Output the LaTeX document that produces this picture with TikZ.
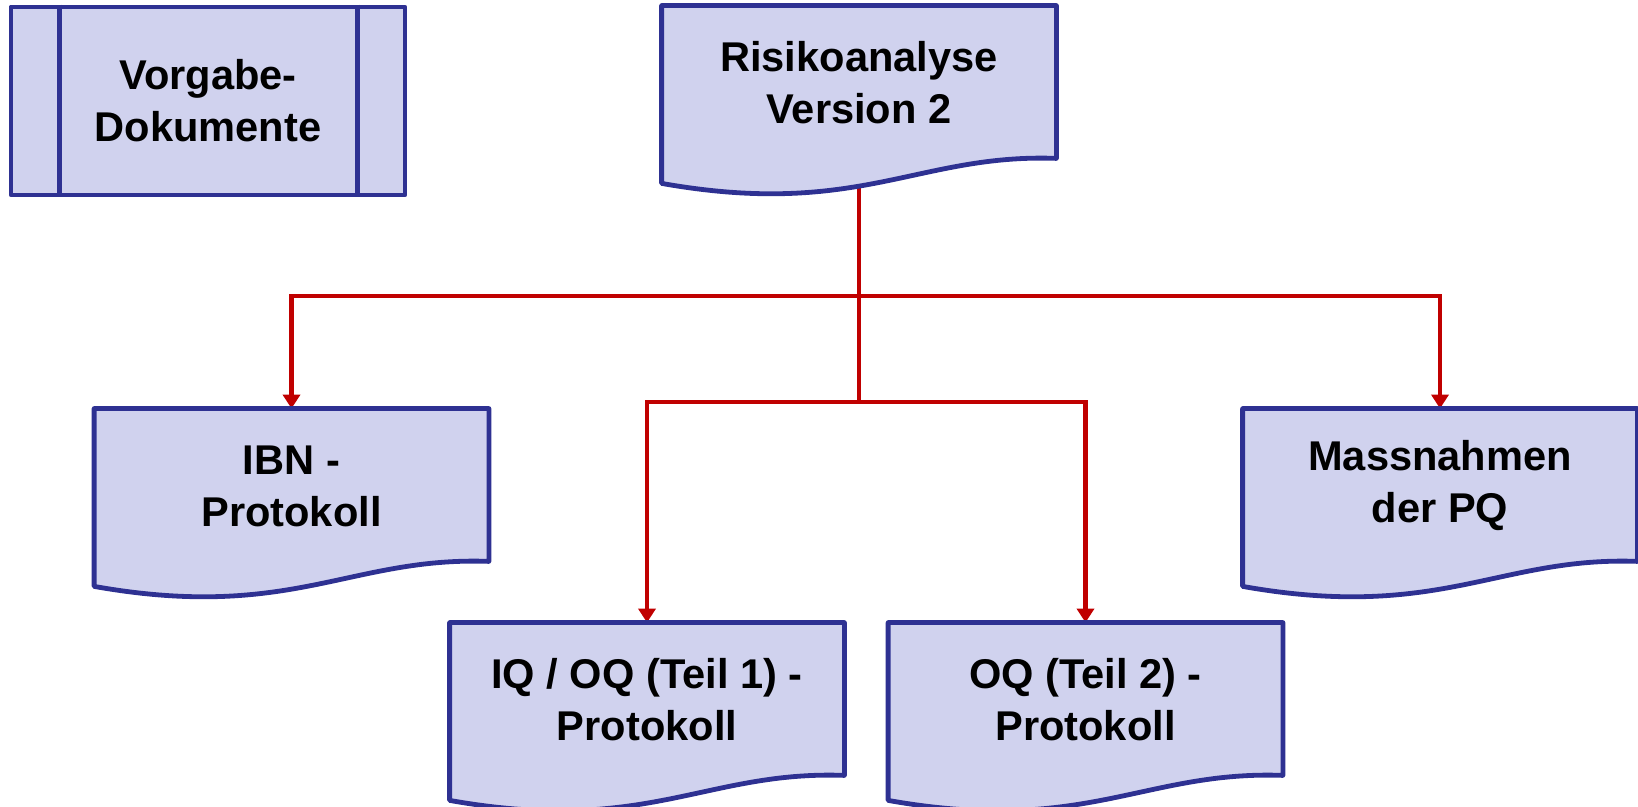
\documentclass[tikz,border=0pt]{standalone}
\usepackage{fontspec}
\setmainfont{Liberation Sans}
\usetikzlibrary{calc}
\usetikzlibrary{arrows.meta}
\usetikzlibrary{backgrounds}

\definecolor{boxfill}{RGB}{208,210,238}
\definecolor{boxline}{RGB}{46,49,146}
\definecolor{linkred}{RGB}{192,0,0}

\tikzset{
 docnode/.style={minimum width=197pt, minimum height=77pt, inner sep=0pt, align=center,
   font=\bfseries\fontsize{20.8}{26}\selectfont},
 docline/.style={draw=boxline, fill=boxfill, line width=2.4pt, line join=round},
 redline/.style={draw=linkred, line width=2.2pt},
 link/.style={redline, -{Triangle[length=7pt,width=8.5pt]}},
}

\begin{document}
\begin{tikzpicture}[x=0.5pt,y=0.5pt]
\useasboundingbox (0,0) rectangle (1638,807);
% Vorgabe box with side bars
\node[docnode, docline, minimum height=94pt] (vorgabe) at (208,706) {Vorgabe-\\Dokumente};
\draw[boxline, line width=2.4pt] ([xshift=25.5pt]vorgabe.north west) -- ([xshift=25.5pt]vorgabe.south west);
\draw[boxline, line width=2.4pt] ([xshift=-25pt]vorgabe.north east) -- ([xshift=-25pt]vorgabe.south east);
% documents
\node[docnode] (risk) at (859,724) {Risikoanalyse\\Version 2};
\node[docnode] (ibn) at (291.5,321) {IBN -\\Protokoll};
\node[docnode] (iq) at (647,107) {IQ / OQ (Teil 1) -\\Protokoll};
\node[docnode] (oq) at (1085.5,107) {OQ (Teil 2) -\\Protokoll};
\node[docnode] (mass) at (1440,321) {Massnahmen\\der PQ};
\coordinate (j1) at (859,511);
\coordinate (j2) at (859,405);
\begin{scope}[on background layer]
% connectors
\draw[link] (risk.south) -- (j1) -| (ibn.north);
\draw[link] (j1) -| (mass.north);
\draw[redline] (j1) -- (j2);
\draw[link] (j2) -| (iq.north);
\draw[link] (j2) -| (oq.north);
% wavy document outlines
\foreach \n in {risk,ibn,iq,oq,mass}
 \path[docline] (\n.north west) -- (\n.north east) -- ($(\n.south east)+(0,2)$)
   .. controls ($(\n.south west)+(256,7)$) and ($(\n.south west)+(197,-58)$) .. ($(\n.south west)+(0,-23)$) -- cycle;
\end{scope}
\end{tikzpicture}
\end{document}
